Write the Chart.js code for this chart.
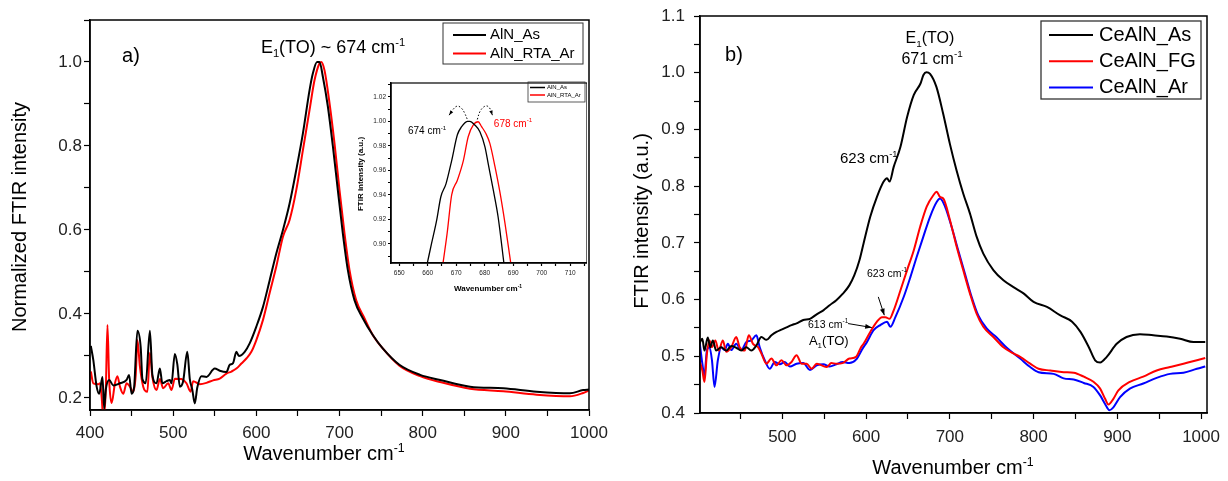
<!DOCTYPE html>
<html>
<head>
<meta charset="utf-8">
<script src="https://cdn.jsdelivr.net/npm/chart.js@4.4.0/dist/chart.umd.min.js"></script>
<style>
body { margin: 0; background: #fff; width: 1228px; height: 481px; overflow: hidden; position: relative; }
canvas { position: absolute; }
#chartA { left: 0; top: 0; }
#chartB { left: 614px; top: 0; }
#chartInset { left: 355px; top: 75px; }
</style>
</head>
<body>
<canvas id="chartA" width="614" height="481"></canvas>
<canvas id="chartB" width="614" height="481"></canvas>
<canvas id="chartInset" width="232" height="225"></canvas>
<script>
// ---- panel a) : AlN
var wnA_As = [401,404,408,411,415,417,419,423,428,436,444,447,450,453,457,461,463,467,472,475,480,484,487,492,496,498,502,505,508,512,517,520,523,526,529,534,540,550,556,564,568,572,576,579,586,592,600,608,616,624,632,640,648,656,664,668,673,676,680,686,692,698,704,710,718,728,740,752,772,797,821,857,897,937,977,993,1000];
var intA_As = [0.324,0.29,0.227,0.21,0.25,0.175,0.22,0.243,0.23,0.235,0.243,0.255,0.21,0.225,0.36,0.32,0.245,0.235,0.36,0.255,0.235,0.27,0.235,0.24,0.243,0.235,0.305,0.28,0.227,0.24,0.31,0.245,0.22,0.187,0.225,0.252,0.25,0.27,0.265,0.262,0.279,0.283,0.31,0.30,0.31,0.33,0.37,0.417,0.48,0.544,0.6,0.663,0.743,0.83,0.933,0.973,1.0,1.0,0.965,0.894,0.8,0.695,0.592,0.505,0.433,0.39,0.35,0.318,0.279,0.255,0.243,0.227,0.223,0.215,0.211,0.219,0.22];
var wnA_Ar = [401,404,410,412,414,416,419,421,423,426,430,433,436,440,444,448,452,455,457,460,464,469,472,475,480,484,488,494,498,502,510,516,521,524,532,540,548,556,564,570,576,582,588,594,600,608,616,624,632,640,648,656,664,670,676,678,682,688,694,700,706,712,720,730,740,752,772,797,821,857,897,937,977,993,1000];
var intA_Ar = [0.263,0.235,0.233,0.235,0.203,0.15,0.22,0.374,0.245,0.188,0.235,0.252,0.227,0.21,0.235,0.227,0.215,0.255,0.338,0.275,0.227,0.215,0.308,0.25,0.219,0.245,0.223,0.235,0.219,0.246,0.245,0.235,0.215,0.24,0.233,0.236,0.242,0.246,0.258,0.263,0.27,0.282,0.294,0.31,0.338,0.386,0.45,0.513,0.584,0.624,0.695,0.79,0.886,0.957,0.997,1.0,0.98,0.902,0.806,0.695,0.592,0.505,0.433,0.39,0.35,0.318,0.277,0.252,0.238,0.222,0.216,0.208,0.204,0.212,0.218];
var xTicksA = [400,450,500,550,600,650,700,750,800,850,900,950,1000];
var xLabelsA = [400,500,600,700,800,900,1000];
var yTicksA = [0.2,0.3,0.4,0.5,0.6,0.7,0.8,0.9,1.0,1.1];
var yLabelsA = [0.2,0.4,0.6,0.8,1.0];

// ---- inset of a) : zoom on the peak
var wnIn_As = [659.9,661.3,663.1,664.6,666.4,668.4,670.4,671.9,673.9,674.8,676.5,678.3,680.1,681.2,683,684.7,686.7];
var intIn_As = [0.885,0.9,0.919,0.9385,0.949,0.968,0.989,0.9956,0.9999,1.0,0.997,0.9915,0.979,0.9657,0.944,0.922,0.885];
var wnIn_Ar = [665.4,666.8,668.4,670.4,672.5,674.2,676,677.7,678.9,680.4,681.8,683.6,685.3,687.1,689.1];
var intIn_Ar = [0.885,0.9086,0.94,0.952,0.968,0.9874,0.997,0.9996,0.9956,0.99,0.982,0.963,0.9426,0.917,0.885];
var arcIn1X = [667.5,668.9,670.4,671.9,673.0,673.9];
var arcIn1Y = [1.005,1.0097,1.0124,1.0105,1.0064,1.0015];
var arcIn2X = [677.4,678.3,679.7,680.9,682.0,682.7];
var arcIn2Y = [1.0015,1.0078,1.0118,1.0124,1.0097,1.005];
var xTicksIn = [650,655,660,665,670,675,680,685,690,695,700,705,710,715];
var xLabelsIn = [650,660,670,680,690,700,710];
var yTicksIn = [0.89,0.90,0.91,0.92,0.93,0.94,0.95,0.96,0.97,0.98,0.99,1.00,1.01,1.02,1.03];
var yLabelsIn = [0.90,0.92,0.94,0.96,0.98,1.00,1.02];

// ---- panel b) : CeAlN
var wnB_As = [401,404.5,407,411,414,417,421,427,433,439,445,451,457,463,469,475,481,487,493,499,505,511,517,525,533,541,549,556.5,564.5,572,580,586,592,597,605,613,621,625,628,633,641,649,657,665,668.5,672,676.4,684,692,700,708,716,724,732,740,752,764,776,788,800,816,832,846,856,866,873.5,879.5,887.4,899.3,911,927,943,959,975,991,1005];
var intB_As = [0.522,0.531,0.51,0.533,0.516,0.528,0.51,0.516,0.51,0.518,0.515,0.51,0.516,0.51,0.519,0.534,0.529,0.537,0.543,0.547,0.551,0.555,0.558,0.564,0.566,0.574,0.581,0.59,0.599,0.61,0.625,0.643,0.669,0.699,0.746,0.781,0.808,0.814,0.808,0.834,0.869,0.922,0.961,0.981,0.996,1.001,0.998,0.975,0.928,0.875,0.828,0.787,0.752,0.711,0.681,0.652,0.634,0.622,0.611,0.596,0.587,0.572,0.561,0.543,0.516,0.493,0.489,0.499,0.522,0.534,0.539,0.537,0.535,0.531,0.525,0.525];
var wnB_FG = [401,404.5,407,410,413,416,420,424,429,433,439,445,449,455,460,465,471,475,481,487,493,499,505,511,517,523,529,535,541,547,553,558.5,564.5,572,580,588,594,597,605,613,619,623,628,633,641,649,657,664.5,672.4,680.3,684.3,688.3,692.3,700.2,708.2,716,724,732,740,752,764,776,784,796,806,820,836,848,860,871.5,879.5,885.4,889.4,895.3,901.3,915,931,947,963,979,995,1005];
var intB_FG = [0.493,0.475,0.455,0.505,0.528,0.516,0.528,0.51,0.528,0.508,0.516,0.534,0.516,0.51,0.537,0.522,0.516,0.505,0.487,0.496,0.484,0.493,0.484,0.49,0.502,0.487,0.487,0.478,0.487,0.484,0.481,0.488,0.487,0.488,0.496,0.499,0.516,0.522,0.543,0.561,0.569,0.569,0.566,0.581,0.616,0.652,0.687,0.728,0.764,0.784,0.79,0.781,0.778,0.74,0.693,0.652,0.611,0.575,0.552,0.534,0.516,0.505,0.499,0.487,0.478,0.475,0.472,0.471,0.464,0.455,0.443,0.425,0.415,0.425,0.44,0.455,0.464,0.475,0.481,0.487,0.493,0.497];
var wnB_Ar = [401,404.5,407,410,413,416,419,423,427,431,435,439,445,451,457,463,469,473,479,485,491,497,503,509,517,525,533,541,549,556.5,564.5,572,580,588,596,601,609,617,625,629,635,645,653,660.4,668.4,676.4,684.3,688.3,694.3,702.2,710,718,726,734,744,756,768,784,796,806,824,836,848,860,871.5,879.5,885.4,890.6,895.3,903.3,915,931,947,963,979,995,1005];
var intB_Ar = [0.528,0.487,0.466,0.511,0.516,0.493,0.446,0.493,0.516,0.511,0.522,0.511,0.522,0.511,0.525,0.528,0.537,0.516,0.493,0.478,0.49,0.486,0.49,0.482,0.487,0.488,0.476,0.484,0.486,0.482,0.486,0.49,0.488,0.494,0.514,0.525,0.546,0.555,0.561,0.552,0.569,0.605,0.64,0.675,0.711,0.746,0.772,0.778,0.764,0.728,0.687,0.646,0.605,0.572,0.549,0.533,0.515,0.496,0.481,0.472,0.469,0.461,0.459,0.453,0.446,0.431,0.416,0.405,0.41,0.428,0.443,0.452,0.462,0.469,0.471,0.478,0.482];
var xTicksB = [450,500,550,600,650,700,750,800,850,900,950,1000];
var xLabelsB = [500,600,700,800,900,1000];
var yTicksB = [0.4,0.45,0.5,0.55,0.6,0.65,0.7,0.75,0.8,0.85,0.9,0.95,1.0,1.05,1.1];
var yLabelsB = [0.4,0.5,0.6,0.7,0.8,0.9,1.0,1.1];

var FONT = '"Liberation Sans", Arial, Helvetica, sans-serif';
Chart.defaults.font.family = FONT;

function pts(xs, ys) {
  return xs.map(function(x, i) { return {x: x, y: ys[i]}; });
}

// text with sub/superscripts, parts = [[text, 'sub'|'sup'|undefined], ...]
function drawRich(ctx, parts, x, y, size, color, align, bold) {
  var weight = bold ? 'bold ' : '';
  var w = 0;
  parts.forEach(function(p) {
    ctx.font = weight + (p[1] ? size * 0.62 : size) + 'px ' + FONT;
    w += ctx.measureText(p[0]).width;
  });
  var cx = align === 'center' ? x - w / 2 : (align === 'right' ? x - w : x);
  ctx.save();
  ctx.fillStyle = color;
  ctx.textAlign = 'left';
  ctx.textBaseline = 'alphabetic';
  parts.forEach(function(p) {
    var s = p[1] ? size * 0.62 : size;
    var dy = p[1] === 'sup' ? -size * 0.42 : (p[1] === 'sub' ? size * 0.22 : 0);
    ctx.font = weight + s + 'px ' + FONT;
    ctx.fillText(p[0], cx, y + dy);
    cx += ctx.measureText(p[0]).width;
  });
  ctx.restore();
}

function arrowHead(ctx, x0, y0, x1, y1, len) {
  var ang = Math.atan2(y1 - y0, x1 - x0);
  ctx.beginPath();
  ctx.moveTo(x1, y1);
  ctx.lineTo(x1 - len * Math.cos(ang - 0.35), y1 - len * Math.sin(ang - 0.35));
  ctx.lineTo(x1 - len * Math.cos(ang + 0.35), y1 - len * Math.sin(ang + 0.35));
  ctx.closePath();
  ctx.fill();
}

var notesPlugin = {
  id: 'notes',
  afterDraw: function(chart, args, opts) {
    var ctx = chart.ctx, a = chart.chartArea;
    var sx = chart.scales.x, sy = chart.scales.y;
    ctx.save();
    ctx.strokeStyle = '#000';
    ctx.lineWidth = opts.frame;
    ctx.strokeRect(a.left, a.top, a.right - a.left, a.bottom - a.top);
    ctx.restore();

    (opts.texts || []).forEach(function(t) {
      var x = t.px ? t.x : sx.getPixelForValue(t.x);
      var y = t.px ? t.y : sy.getPixelForValue(t.y);
      if (t.rot) {
        ctx.save();
        ctx.translate(x, y);
        ctx.rotate(-Math.PI / 2);
        drawRich(ctx, t.parts, 0, 0, t.size, t.color || '#000', t.align || 'left', t.bold);
        ctx.restore();
      } else {
        drawRich(ctx, t.parts, x, y, t.size, t.color || '#000', t.align || 'left', t.bold);
      }
    });

    ctx.save();
    ctx.strokeStyle = '#000';
    ctx.fillStyle = '#000';
    ctx.lineWidth = 1;
    (opts.arrows || []).forEach(function(ar) {
      var x0 = sx.getPixelForValue(ar.from[0]), y0 = sy.getPixelForValue(ar.from[1]);
      var x1 = sx.getPixelForValue(ar.to[0]), y1 = sy.getPixelForValue(ar.to[1]);
      ctx.beginPath();
      ctx.moveTo(x0, y0);
      ctx.lineTo(x1, y1);
      ctx.stroke();
      arrowHead(ctx, x0, y0, x1, y1, 7);
    });
    (opts.heads || []).forEach(function(h) {
      var d = chart.getDatasetMeta(h.ds).data;
      var tip = h.atStart ? d[0] : d[d.length - 1];
      var prev = h.atStart ? d[1] : d[d.length - 2];
      arrowHead(ctx, prev.x, prev.y, tip.x, tip.y, 5);
    });
    ctx.restore();

    var lg = opts.legend;
    if (lg) {
      ctx.save();
      ctx.strokeStyle = '#333';
      ctx.lineWidth = lg.border;
      ctx.strokeRect(lg.box[0], lg.box[1], lg.box[2] - lg.box[0], lg.box[3] - lg.box[1]);
      ctx.textBaseline = 'middle';
      ctx.font = lg.size + 'px ' + FONT;
      var k = 0;
      chart.data.datasets.forEach(function(ds) {
        if (!ds.label) return;
        var y = lg.rowY + k * lg.rowGap;
        ctx.strokeStyle = ds.borderColor;
        ctx.lineWidth = lg.lineWidth;
        ctx.beginPath();
        ctx.moveTo(lg.line[0], y);
        ctx.lineTo(lg.line[1], y);
        ctx.stroke();
        ctx.fillStyle = '#000';
        ctx.fillText(ds.label, lg.textX, y);
        k++;
      });
      ctx.restore();
    }
  }
};

function axis(min, max, tickVals, labelVals, digits, size, tickLen, pad, fit) {
  return {
    type: 'linear',
    min: min,
    max: max,
    afterBuildTicks: function(s) {
      s.ticks = tickVals.map(function(v) { return {value: v}; });
    },
    afterFit: function(s) {
      fit(s);
      s.paddingLeft = 0; s.paddingRight = 0; s.paddingTop = 0; s.paddingBottom = 0;
    },
    ticks: {
      autoSkip: false,
      maxRotation: 0,
      padding: pad,
      color: '#222',
      font: {size: size},
      callback: function(v) {
        for (var i = 0; i < labelVals.length; i++) {
          if (Math.abs(labelVals[i] - v) < 1e-6) return labelVals[i].toFixed(digits);
        }
        return '';
      }
    },
    grid: {drawOnChartArea: false, drawTicks: true, tickLength: tickLen, color: '#000', tickColor: '#000', tickWidth: 1.2},
    border: {display: true, color: '#000', width: 1.5}
  };
}

function line(label, data, color, width) {
  return {label: label, data: data, borderColor: color, backgroundColor: color, borderWidth: width,
    pointRadius: 0, cubicInterpolationMode: 'monotone', fill: false};
}

var baseOpts = {
  responsive: false,
  animation: false,
  devicePixelRatio: 1,
  events: [],
  plugins: {legend: {display: false}, tooltip: {enabled: false}}
};

function opts(extra) {
  return Object.assign({}, baseOpts, extra);
}

// panel a)
new Chart('chartA', {
  type: 'line',
  data: {datasets: [
    line('AlN_As', pts(wnA_As, intA_As), '#000000', 2),
    line('AlN_RTA_Ar', pts(wnA_Ar, intA_Ar), '#ff0000', 2)
  ]},
  options: opts({
    layout: {padding: {top: 20, right: 25, left: 0, bottom: 0}},
    scales: {
      x: axis(400, 1000, xTicksA, xLabelsA, 0, 17, 6, 7, function(s) { s.height = 71; }),
      y: axis(0.1714, 1.1, yTicksA, yLabelsA, 1, 17, 6, 2, function(s) { s.width = 90; })
    },
    plugins: {
      legend: {display: false}, tooltip: {enabled: false},
      notes: {
        frame: 1.5,
        texts: [
          {parts: [['a)']], x: 438.5, y: 1.0, size: 20},
          {parts: [['E'], ['1', 'sub'], ['(TO) ~ 674 cm'], ['-1', 'sup']], x: 605.5, y: 1.021, size: 18},
          {px: true, parts: [['Wavenumber cm'], ['-1', 'sup']], x: 324, y: 460, size: 20, align: 'center'},
          {px: true, rot: true, parts: [['Normalized FTIR intensity']], x: 26, y: 217, size: 20, align: 'center'}
        ],
        legend: {box: [443, 23, 583, 64], line: [453, 486], textX: 490, rowY: 35, rowGap: 18.5, size: 15, lineWidth: 2, border: 1}
      }
    }
  }),
  plugins: [notesPlugin]
});

// inset of a)
new Chart('chartInset', {
  type: 'line',
  data: {datasets: [
    line('AlN_As', pts(wnIn_As, intIn_As), '#000000', 1.3),
    line('AlN_RTA_Ar', pts(wnIn_Ar, intIn_Ar), '#ff0000', 1.3),
    Object.assign(line('', pts(arcIn1X, arcIn1Y), '#000000', 1), {borderDash: [1.5, 2], cubicInterpolationMode: 'default', tension: 0.4}),
    Object.assign(line('', pts(arcIn2X, arcIn2Y), '#000000', 1), {borderDash: [1.5, 2], cubicInterpolationMode: 'default', tension: 0.4})
  ]},
  options: opts({
    layout: {padding: {top: 8, right: 0, left: 0, bottom: 0}},
    scales: {
      x: axis(647.1, 715.9, xTicksIn, xLabelsIn, 0, 6.5, 3, 3, function(s) { s.height = 37; }),
      y: axis(0.8845, 1.0312, yTicksIn, yLabelsIn, 2, 6.5, 3, 2, function(s) { s.width = 36; })
    },
    plugins: {
      legend: {display: false}, tooltip: {enabled: false},
      notes: {
        frame: 1.2,
        texts: [
          {parts: [['674 cm'], ['-1', 'sup']], x: 653.05, y: 0.9896, size: 10},
          {parts: [['678 cm'], ['-1', 'sup']], x: 683.2, y: 0.9956, size: 10, color: '#ff0000'},
          {px: true, parts: [['Wavenumber cm'], ['-1', 'sup']], x: 133, y: 216, size: 8, bold: true, align: 'center'},
          {px: true, rot: true, parts: [['FTIR intensity (a.u.)']], x: 8, y: 99, size: 8, bold: true, align: 'center'}
        ],
        heads: [{ds: 2, atStart: true}, {ds: 3, atStart: false}],
        legend: {box: [173, 7, 230, 27], line: [175, 190], textX: 192, rowY: 12.5, rowGap: 7.5, size: 6, lineWidth: 1.5, border: 0.8}
      }
    }
  }),
  plugins: [notesPlugin]
});

// panel b)
new Chart('chartB', {
  type: 'line',
  data: {datasets: [
    line('CeAlN_As', pts(wnB_As, intB_As), '#000000', 2),
    line('CeAlN_FG', pts(wnB_FG, intB_FG), '#ff0000', 2),
    line('CeAlN_Ar', pts(wnB_Ar, intB_Ar), '#0000ff', 2)
  ]},
  options: opts({
    layout: {padding: {top: 16, right: 21, left: 0, bottom: 0}},
    scales: {
      x: axis(401.7, 1007.1, xTicksB, xLabelsB, 0, 17, 6, 8, function(s) { s.height = 68; }),
      y: axis(0.4, 1.1, yTicksB, yLabelsB, 1, 17, 6, 9, function(s) { s.width = 86; })
    },
    plugins: {
      legend: {display: false}, tooltip: {enabled: false},
      notes: {
        frame: 1.5,
        texts: [
          {parts: [['b)']], x: 431.6, y: 1.0206, size: 20},
          {parts: [['E'], ['1', 'sub'], ['(TO)']], x: 676.3, y: 1.052, size: 16, align: 'center'},
          {parts: [['671 cm'], ['-1', 'sup']], x: 678.8, y: 1.0153, size: 16, align: 'center'},
          {parts: [['623 cm'], ['-1', 'sup']], x: 568.9, y: 0.841, size: 15},
          {parts: [['623 cm'], ['-1', 'sup']], x: 601.1, y: 0.640, size: 10.5},
          {parts: [['613 cm'], ['-1', 'sup']], x: 530.7, y: 0.5507, size: 10.5},
          {parts: [['A'], ['1', 'sub'], ['(TO)']], x: 531.8, y: 0.5194, size: 13},
          {px: true, parts: [['Wavenumber cm'], ['-1', 'sup']], x: 339, y: 474, size: 20, align: 'center'},
          {px: true, rot: true, parts: [['FTIR intensity (a.u.)']], x: 34, y: 221, size: 20, align: 'center'}
        ],
        arrows: [
          {from: [578.5, 0.5577], to: [606.8, 0.5507]},
          {from: [614.6, 0.6047], to: [621.8, 0.5724]}
        ],
        legend: {box: [427, 21, 587, 99], line: [435, 479], textX: 485, rowY: 35, rowGap: 26.2, size: 20, lineWidth: 2, border: 1.3}
      }
    }
  }),
  plugins: [notesPlugin]
});
</script>
</body>
</html>
